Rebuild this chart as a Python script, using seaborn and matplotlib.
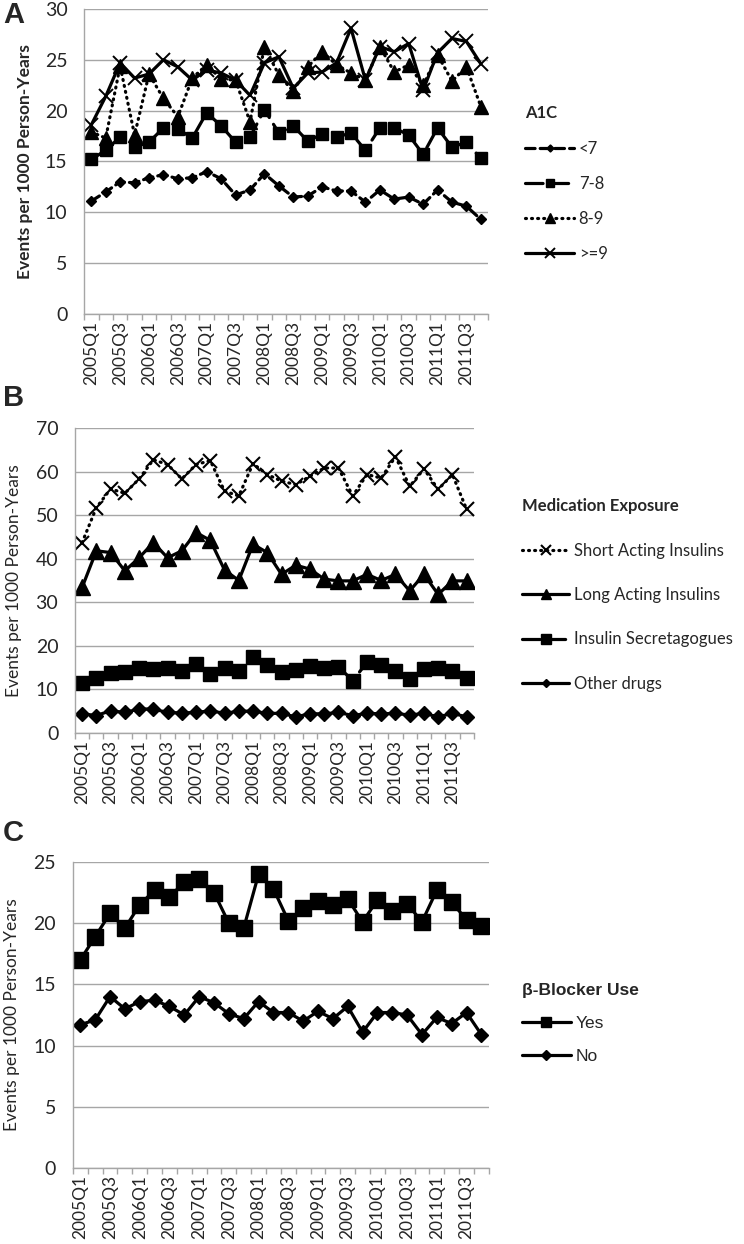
import numpy as np
import pandas as pd
import matplotlib
matplotlib.use("Agg")
from matplotlib import pyplot as plt
import seaborn as sns

# quarters 2005Q1 .. 2011Q4
quarters = [f"{y}Q{q}" for y in range(2005, 2012) for q in range(1, 5)]

# Panel A - A1C
a1c_lt7 = [11.1, 12.0, 13.0, 12.9, 13.4, 13.7, 13.3, 13.4, 14.0, 13.3, 11.7, 12.2,
           13.8, 12.6, 11.5, 11.6, 12.5, 12.1, 12.1, 11.0, 12.2, 11.3, 11.5, 10.8,
           12.2, 11.0, 10.6, 9.3]
a1c_7_8 = [15.2, 16.1, 17.4, 16.4, 16.9, 18.3, 18.2, 17.3, 19.8, 18.5, 16.9, 17.4,
           20.1, 17.8, 18.5, 17.0, 17.7, 17.4, 17.8, 16.1, 18.3, 18.3, 17.6, 15.7,
           18.3, 16.4, 16.9, 15.3]
a1c_8_9 = [17.9, 17.3, 24.4, 17.6, 23.6, 21.2, 19.4, 23.2, 24.5, 23.1, 23.0, 18.9,
           26.3, 23.5, 21.9, 24.3, 25.8, 24.5, 23.7, 23.0, 26.3, 23.8, 24.5, 22.5,
           25.5, 22.9, 24.3, 20.4]
a1c_ge9 = [18.6, 21.4, 24.7, 23.2, 23.6, 25.0, 24.3, 23.0, 24.0, 23.7, 23.0, 21.5,
           24.7, 25.3, 22.2, 23.7, 23.8, 24.7, 28.1, 23.0, 26.3, 25.8, 26.6, 22.0,
           25.7, 27.1, 26.8, 24.6]

# Panel B - medication exposure
short_acting = [43.7, 51.7, 56.0, 55.0, 58.3, 62.7, 61.6, 58.3, 61.6, 62.5, 55.5, 54.4,
                61.8, 59.3, 57.8, 57.0, 58.9, 60.8, 60.8, 54.4, 59.3, 58.5, 63.4, 56.6,
                60.6, 55.9, 59.3, 51.3]
long_acting = [33.4, 41.8, 41.4, 37.2, 40.2, 43.7, 40.2, 41.8, 46.0, 44.2, 37.4, 35.0,
               43.3, 41.4, 36.4, 38.5, 37.6, 35.3, 34.9, 34.9, 36.4, 35.0, 36.4, 32.6,
               36.4, 31.8, 34.9, 34.9]
secretagogues = [11.5, 12.7, 13.7, 14.0, 15.0, 14.7, 14.8, 14.3, 15.8, 13.5, 15.0, 14.3,
                 17.5, 15.6, 14.0, 14.5, 15.3, 14.8, 15.2, 12.0, 16.2, 15.6, 14.3, 12.4,
                 14.7, 14.8, 14.3, 12.7]
other_drugs = [4.4, 4.0, 5.1, 4.7, 5.5, 5.5, 4.7, 4.6, 4.7, 5.1, 4.5, 5.0,
               5.0, 4.5, 4.5, 3.7, 4.4, 4.4, 4.7, 4.0, 4.5, 4.4, 4.5, 4.1,
               4.5, 3.7, 4.5, 3.7]

# Panel C - beta-blocker use
bb_yes = [17.0, 18.9, 20.8, 19.6, 21.5, 22.7, 22.1, 23.4, 23.6, 22.5, 20.0, 19.6,
          24.0, 22.8, 20.2, 21.2, 21.8, 21.5, 22.0, 20.1, 21.9, 21.0, 21.6, 20.1,
          22.7, 21.7, 20.3, 19.8]
bb_no = [11.7, 12.1, 14.0, 13.0, 13.6, 13.7, 13.2, 12.5, 14.0, 13.5, 12.6, 12.2,
         13.6, 12.7, 12.7, 12.0, 12.8, 12.2, 13.2, 11.1, 12.7, 12.7, 12.5, 10.9,
         12.3, 11.8, 12.7, 10.9]

sns.set_theme(style="white")
plt.rcParams['font.family'] = ['Lato', 'DejaVu Sans']

fig = plt.figure(figsize=(7.44, 12.44), dpi=100)

ax_a = fig.add_axes([0.113, 0.7476, 0.543, 0.2452])
ax_b = fig.add_axes([0.1008, 0.4108, 0.536, 0.2452])
ax_c = fig.add_axes([0.098, 0.0611, 0.559, 0.246])

x = np.arange(len(quarters))
GRID = "#a6a6a6"


def draw(ax, values, label, ls, marker, ms, mew=1.0):
    sns.lineplot(x=x, y=values, ax=ax, color="black", linestyle=ls, lw=2.3,
                 marker=marker, markersize=ms, markeredgecolor="black",
                 markerfacecolor="black", markeredgewidth=mew, label=label,
                 dash_capstyle="round")


def style_axis(ax, ymax, ystep, ylabel, label_x, bold):
    ax.set_xlim(-0.5, len(quarters) - 0.5)
    ax.set_ylim(0, ymax)
    ax.set_yticks(np.arange(0, ymax + 0.1, ystep))
    ax.set_yticklabels([f"{v:g}" for v in np.arange(0, ymax + 0.1, ystep)], fontsize=14)
    ax.set_xticks(x[::2])
    ax.set_xticklabels(quarters[::2], rotation=90, fontsize=12.5)
    ax.set_xticks(np.arange(-0.5, len(quarters)), minor=True)
    ax.tick_params(axis="x", which="major", length=0, pad=5)
    ax.tick_params(axis="x", which="minor", length=4, color=GRID, width=1, bottom=True)
    ax.tick_params(axis="y", length=0, pad=12)
    ax.yaxis.grid(True, color=GRID, lw=1)
    ax.set_axisbelow(True)
    for side in ["top", "right"]:
        ax.spines[side].set_visible(False)
    for side in ["left", "bottom"]:
        ax.spines[side].set_color(GRID)
        ax.spines[side].set_linewidth(1)
    ax.set_xlabel("")
    ax.set_ylabel(ylabel, fontsize=12.5, fontweight="bold" if bold else "normal")
    ax.yaxis.set_label_coords(label_x, 0.5)


# A
draw(ax_a, a1c_lt7, "<7", (0, (3, 1.6)), "D", 5.5)
draw(ax_a, a1c_7_8, "7-8", (0, (5.5, 2.5)), "s", 8)
draw(ax_a, a1c_8_9, "8-9", (0, (0.3, 1.6)), "^", 10)
draw(ax_a, a1c_ge9, ">=9", "-", "x", 10, 1.4)
style_axis(ax_a, 30, 5, "Events per 1000 Person-Years", -0.126, True)

# B
draw(ax_b, short_acting, "Short Acting Insulins", (0, (0.3, 1.6)), "x", 10.5, 1.5)
draw(ax_b, long_acting, "Long Acting Insulins", "-", "^", 11.5)
draw(ax_b, secretagogues, "Insulin Secretagogues", (0, (5.5, 2.5)), "s", 10)
draw(ax_b, other_drugs, "Other drugs", "-", "D", 7)
style_axis(ax_b, 70, 10, "Events per 1000 Person-Years", -0.133, False)

# C
draw(ax_c, bb_yes, "Yes", "-", "s", 11)
draw(ax_c, bb_no, "No", "-", "D", 7.5)
style_axis(ax_c, 25, 5, "Events per 1000 Person-Years", -0.127, False)


def legend(ax, title, anchor, spacing, fs, hl=3.3, family=None, title_family=None):
    leg = ax.legend(title=title, loc="upper left",
                    bbox_to_anchor=anchor, bbox_transform=fig.transFigure,
                    frameon=False, borderpad=0, handlelength=hl, handletextpad=0.3,
                    labelspacing=spacing, title_fontsize=fs,
                    prop={"size": fs, "family": family} if family else {"size": fs})
    # legend markers are smaller than the plotted ones
    for h in leg.legend_handles:
        h.set_markersize(h.get_markersize() * 0.65)
    leg.get_title().set_fontweight("bold")
    if title_family:
        leg.get_title().set_family(title_family)
    leg._legend_box.align = "left"
    return leg


legend(ax_a, "A1C", (0.695, 0.922), 1.15, 12, hl=2.9)
legend(ax_b, "Medication Exposure", (0.691, 0.606), 1.7, 12, hl=2.8)
legend(ax_c, "β-Blocker Use", (0.69, 0.217), 1.05, 12.5, hl=2.8,
       family="Liberation Sans", title_family="Liberation Sans")

for letter, ypos in [("A", 1 - 15 / 1244), ("B", 1 - 398 / 1244), ("C", 1 - 833 / 1244)]:
    fig.text(0.004, ypos, letter, fontsize=21, fontweight="bold",
             family="Liberation Sans", ha="left", va="center")

fig.savefig("out.png", dpi=100)
